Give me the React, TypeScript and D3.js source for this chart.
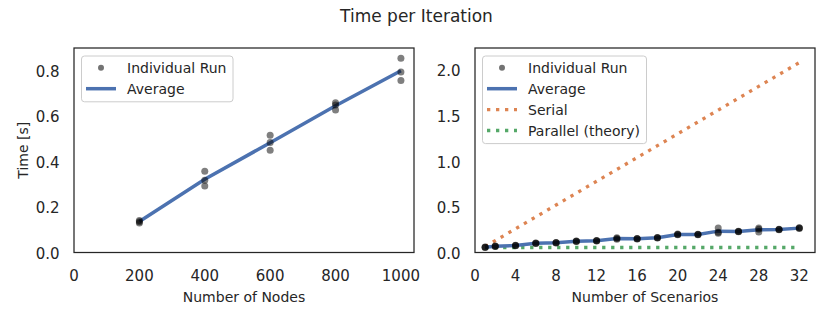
import React from "react";
import * as d3 from "d3";

// left panel: time vs number of nodes
const nodes = [200, 400, 600, 800, 1000];
const nodeRuns = [
  [0.13, 0.135, 0.14],
  [0.292, 0.317, 0.357],
  [0.449, 0.483, 0.515],
  [0.626, 0.648, 0.658],
  [0.755, 0.793, 0.853],
];
const nodeAvg = [0.136, 0.322, 0.482, 0.644, 0.798];

// right panel: time vs number of scenarios
const scenarios = [1, 2, 4, 6, 8, 10, 12, 14, 16, 18, 20, 22, 24, 26, 28, 30, 32];
const scenarioRuns = [
  [0.056, 0.058, 0.06],
  [0.067, 0.069, 0.071],
  [0.075, 0.077, 0.079],
  [0.099, 0.102, 0.105],
  [0.105, 0.107, 0.109],
  [0.121, 0.124, 0.127],
  [0.127, 0.129, 0.131],
  [0.146, 0.154, 0.162],
  [0.147, 0.15, 0.153],
  [0.159, 0.161, 0.163],
  [0.194, 0.198, 0.202],
  [0.195, 0.198, 0.201],
  [0.212, 0.223, 0.267],
  [0.228, 0.231, 0.234],
  [0.224, 0.256, 0.267],
  [0.25, 0.253, 0.256],
  [0.264, 0.267, 0.27],
];
const scenarioAvg = [0.058, 0.069, 0.077, 0.102, 0.107, 0.124, 0.129, 0.154, 0.15, 0.161, 0.198, 0.198, 0.234, 0.231, 0.249, 0.253, 0.267];
const serial = [0.065, 0.13, 0.26, 0.39, 0.52, 0.65, 0.78, 0.91, 1.04, 1.17, 1.3, 1.43, 1.56, 1.69, 1.82, 1.95, 2.08];
const parallel = [0.055, 0.055, 0.055, 0.055, 0.055, 0.055, 0.055, 0.055, 0.055, 0.055, 0.055, 0.055, 0.055, 0.055, 0.055, 0.055, 0.055];

const nodeTicks = [0, 200, 400, 600, 800, 1000];
const nodeYTicks = [0, 0.2, 0.4, 0.6, 0.8];
const scenarioTicks = [0, 4, 8, 12, 16, 20, 24, 28, 32];
const scenarioYTicks = [0, 0.5, 1, 1.5, 2];

const W = 830;
const H = 320;
const FONT = "DejaVu Sans";
const TEXT = "#262626";
const BLUE = "#4c72b0";
const ORANGE = "#dd8452";
const GREEN = "#55a868";
const top = 48;
const bottom = 252.5;

type Item = { label: string; kind: "dot" | "line" | "dotted"; color: string };

const Legend = ({ x, y, w, items }: { x: number; y: number; w: number; items: Item[] }) => {
  const rowH = 20.9;
  const h = items.length * rowH + 4;
  return (
    <g transform={`translate(${x},${y})`}>
      <rect width={w} height={h} rx={3} fill="white" fillOpacity={0.85} stroke="#cccccc" strokeWidth={1} />
      {items.map((it, i) => {
        const cy = 11.8 + i * rowH;
        return (
          <g key={it.label}>
            {it.kind === "dot" && <circle cx={19.5} cy={cy} r={3} fill="black" fillOpacity={0.55} />}
            {it.kind === "line" && <line x1={4.5} x2={34.5} y1={cy} y2={cy} stroke={BLUE} strokeWidth={3.5} />}
            {it.kind === "dotted" && (
              <line x1={4.5} x2={34.5} y1={cy} y2={cy} stroke={it.color} strokeWidth={3.3} strokeDasharray="3.3 5.7" />
            )}
            <text x={45.5} y={cy} dy="0.36em" fontSize={14} fill={TEXT}>
              {it.label}
            </text>
          </g>
        );
      })}
    </g>
  );
};

const Panel = ({
  left,
  right,
  x,
  y,
  xTicks,
  yTicks,
  xLabel,
  yLabel,
  children,
}: {
  left: number;
  right: number;
  x: d3.ScaleLinear<number, number>;
  y: d3.ScaleLinear<number, number>;
  xTicks: number[];
  yTicks: number[];
  xLabel: string;
  yLabel?: string;
  children: React.ReactNode;
}) => (
  <g>
    {children}
    <rect x={left} y={top} width={right - left} height={bottom - top} fill="none" stroke="#262626" strokeWidth={1.25} />
    {xTicks.map((t) => (
      <text key={t} x={x(t)} y={281} textAnchor="middle" fontSize={15} fill={TEXT}>
        {t}
      </text>
    ))}
    {yTicks.map((t) => (
      <text key={t} x={left - 14.5} y={y(t)} dy="0.42em" textAnchor="end" fontSize={15} fill={TEXT}>
        {d3.format(".1f")(t)}
      </text>
    ))}
    <text x={(left + right) / 2} y={301.5} textAnchor="middle" fontSize={14} fill={TEXT}>
      {xLabel}
    </text>
    {yLabel && (
      <text transform={`translate(23,${(top + bottom) / 2}) rotate(-90)`} dy="0.36em" textAnchor="middle" fontSize={14} fill={TEXT}>
        {yLabel}
      </text>
    )}
  </g>
);

const App = () => {
  const lx = d3.scaleLinear().domain([0, 1040]).range([74, 414]);
  const ly = d3.scaleLinear().domain([0, 0.898]).range([bottom, top]);
  const rx = d3.scaleLinear().domain([0, 33.55]).range([475, 815]);
  const ry = d3.scaleLinear().domain([0, 2.24]).range([bottom, top]);

  const lLine = d3.line<number>().x((_, i) => lx(nodes[i])).y((d) => ly(d));
  const rLine = d3.line<number>().x((_, i) => rx(scenarios[i])).y((d) => ry(d));

  return (
    <svg
      width={W}
      height={H}
      style={{ position: "absolute", left: 0, top: 0, background: "white" }}
      fontFamily={FONT}
    >
      <text x={416.5} y={21.7} textAnchor="middle" fontSize={17} fill={TEXT}>
        Time per Iteration
      </text>

      <Panel left={74} right={414} x={lx} y={ly} xTicks={nodeTicks} yTicks={nodeYTicks} xLabel="Number of Nodes" yLabel="Time [s]">
        <path d={lLine(nodeAvg) ?? ""} fill="none" stroke={BLUE} strokeWidth={3.5} />
        {nodeRuns.map((runs, i) =>
          runs.map((v, j) => <circle key={`${i}-${j}`} cx={lx(nodes[i])} cy={ly(v)} r={3.5} fill="black" fillOpacity={0.5} />)
        )}
      </Panel>
      <Legend
        x={81.5}
        y={56}
        w={151.5}
        items={[
          { label: "Individual Run", kind: "dot", color: "black" },
          { label: "Average", kind: "line", color: BLUE },
        ]}
      />

      <Panel left={475} right={815} x={rx} y={ry} xTicks={scenarioTicks} yTicks={scenarioYTicks} xLabel="Number of Scenarios">
        <path d={rLine(serial) ?? ""} fill="none" stroke={ORANGE} strokeWidth={3.3} strokeDasharray="3.3 5.7" />
        <path d={rLine(parallel) ?? ""} fill="none" stroke={GREEN} strokeWidth={3.3} strokeDasharray="3.3 5.7" />
        <path d={rLine(scenarioAvg) ?? ""} fill="none" stroke={BLUE} strokeWidth={3.5} />
        {scenarioRuns.map((runs, i) =>
          runs.map((v, j) => <circle key={`${i}-${j}`} cx={rx(scenarios[i])} cy={ry(v)} r={3.5} fill="black" fillOpacity={0.5} />)
        )}
      </Panel>
      <Legend
        x={482.5}
        y={56}
        w={164}
        items={[
          { label: "Individual Run", kind: "dot", color: "black" },
          { label: "Average", kind: "line", color: BLUE },
          { label: "Serial", kind: "dotted", color: ORANGE },
          { label: "Parallel (theory)", kind: "dotted", color: GREEN },
        ]}
      />
    </svg>
  );
};

export default App;
